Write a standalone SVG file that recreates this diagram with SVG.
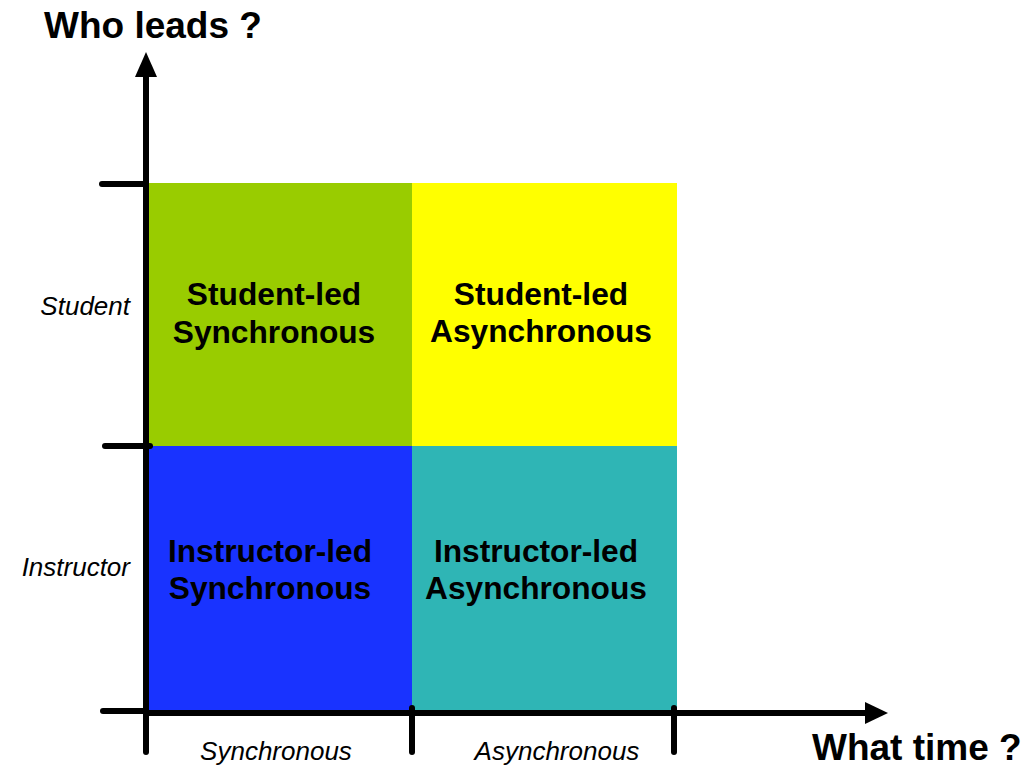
<svg xmlns="http://www.w3.org/2000/svg" width="1024" height="766" viewBox="0 0 1024 766">
<style>
.q{stroke:none}
.lbl{font-family:"Liberation Sans",Arial,sans-serif;font-weight:bold;font-size:31.7px;fill:#000;text-anchor:middle}
.ax{font-family:"Liberation Sans",Arial,sans-serif;font-style:italic;font-size:26px;fill:#000}
.ttl{font-family:"Liberation Sans",Arial,sans-serif;font-weight:bold;font-size:37px;fill:#000}
.ln{stroke:#000;stroke-width:6;stroke-linecap:round;fill:none}
</style>
<rect width="1024" height="766" fill="#fff"/>
<g id="q-student-sync">
<rect class="q" x="148" y="183" width="264" height="263" fill="#99CC00"/>
<text class="lbl" x="274" y="305">Student-led</text>
<text class="lbl" x="274" y="343">Synchronous</text>
</g>
<g id="q-student-async">
<rect class="q" x="412" y="183" width="265" height="263" fill="#FFFF00"/>
<text class="lbl" x="541" y="305">Student-led</text>
<text class="lbl" x="541" y="342">Asynchronous</text>
</g>
<g id="q-instructor-sync">
<rect class="q" x="148" y="446" width="264" height="265" fill="#1933FF"/>
<text class="lbl" x="270" y="562">Instructor-led</text>
<text class="lbl" x="270" y="599">Synchronous</text>
</g>
<g id="q-instructor-async">
<rect class="q" x="412" y="446" width="265" height="265" fill="#2FB5B5"/>
<text class="lbl" x="536" y="562">Instructor-led</text>
<text class="lbl" x="536" y="599">Asynchronous</text>
</g>
<g id="axes">
<line class="ln" x1="146" y1="752" x2="146" y2="72"/>
<polygon points="146,52 135,77 157,77" fill="#000"/>
<line class="ln" x1="146" y1="713" x2="868" y2="713"/>
<polygon points="888,713 865,702 865,724" fill="#000"/>
<line class="ln" x1="102" y1="184" x2="146" y2="184"/>
<line class="ln" x1="105" y1="446" x2="150" y2="446"/>
<line class="ln" x1="103" y1="711" x2="146" y2="711"/>
<line class="ln" x1="412" y1="708" x2="412" y2="752"/>
<line class="ln" x1="674" y1="708" x2="674" y2="752"/>
</g>
<g id="labels">
<text class="ttl" x="44" y="38">Who leads ?</text>
<text class="ttl" x="812" y="760">What time ?</text>
<text class="ax" x="130" y="315" text-anchor="end">Student</text>
<text class="ax" x="130" y="576" text-anchor="end">Instructor</text>
<text class="ax" x="276" y="760" text-anchor="middle">Synchronous</text>
<text class="ax" x="557" y="760" text-anchor="middle">Asynchronous</text>
</g>
</svg>
